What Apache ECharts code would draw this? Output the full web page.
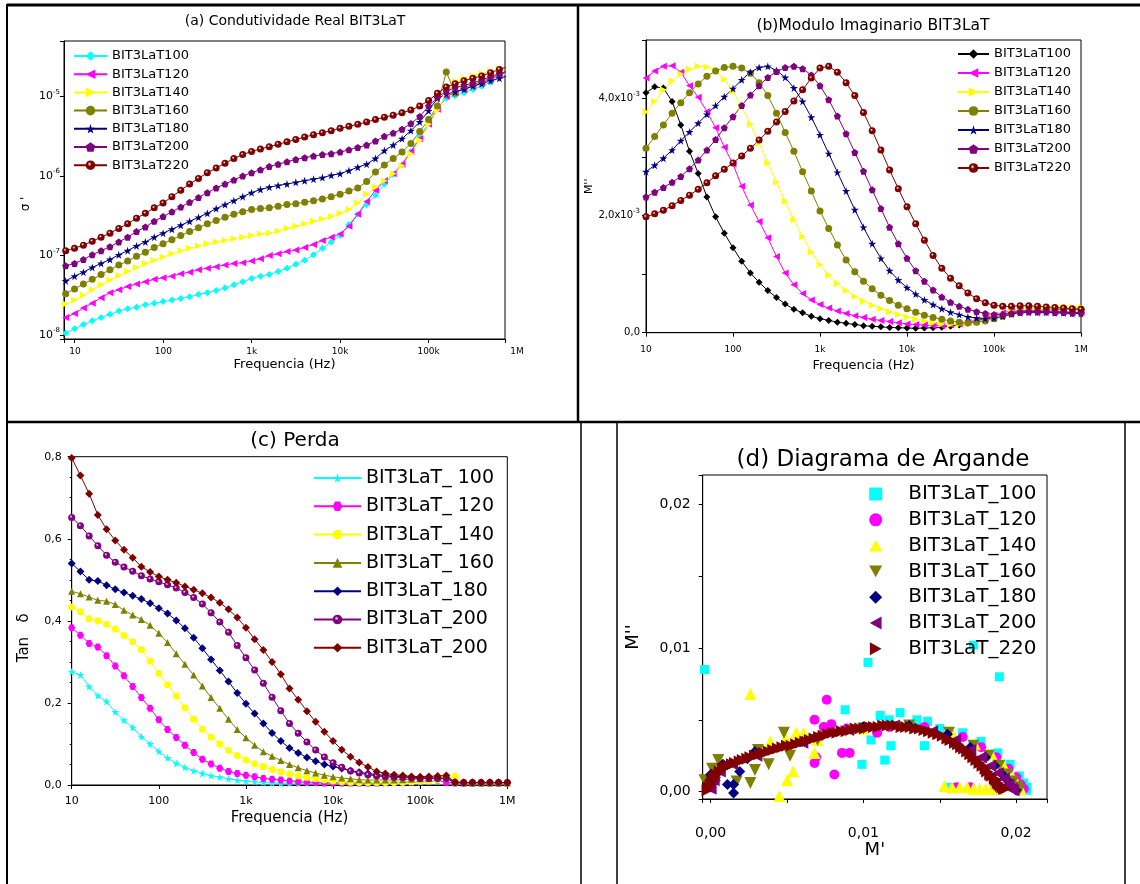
<!DOCTYPE html>
<html>
<head>
<meta charset="utf-8">
<title>BIT3LaT</title>
<script src="https://cdn.jsdelivr.net/npm/echarts@6/dist/echarts.min.js"></script>
<style>html,body{margin:0;padding:0;background:#fff}#chart{width:1140px;height:884px}</style>
</head>
<body>
<div id="chart"></div>
<script>
// ---------- DATA ----------
// frequency grids (Hz)
const freqA = [7.943,10,12.59,15.85,19.95,25.12,31.62,39.81,50.12,63.10,79.43,100,125.9,158.5,199.5,251.2,316.2,398.1,501.2,631.0,794.3,1000,1259,1585,1995,2512,3162,3981,5012,6310,7943,10000,12589,15849,19953,25119,31623,39811,50119,63096,79433,100000,125893,158489,199526,251189,316228,398107,501187,630957,794328];
const freqB = [10,12.59,15.85,19.95,25.12,31.62,39.81,50.12,63.10,79.43,100,125.9,158.5,199.5,251.2,316.2,398.1,501.2,631.0,794.3,1000,1259,1585,1995,2512,3162,3981,5012,6310,7943,10000,12589,15849,19953,25119,31623,39811,50119,63096,79433,100000,125893,158489,199526,251189,316228,398107,501187,630957,794328,1000000];
const freqTickLabels = ['10','100','1k','10k','100k','1M'];

// (a) real conductivity sigma'
const sigma100 = [1.05e-8,1.20e-8,1.35e-8,1.51e-8,1.66e-8,1.82e-8,2.00e-8,2.14e-8,2.24e-8,2.40e-8,2.51e-8,2.63e-8,2.75e-8,2.88e-8,3.02e-8,3.24e-8,3.39e-8,3.63e-8,3.89e-8,4.27e-8,4.68e-8,5.13e-8,5.50e-8,5.75e-8,6.31e-8,6.92e-8,7.76e-8,8.71e-8,1.02e-7,1.23e-7,1.48e-7,1.78e-7,2.45e-7,3.31e-7,4.37e-7,5.75e-7,7.94e-7,1.05e-6,1.38e-6,2.04e-6,3.09e-6,4.68e-6,7.24e-6,9.55e-6,1.02e-5,1.12e-5,1.23e-5,1.35e-5,1.51e-5,1.74e-5,2.00e-5];
const sigma120 = [1.66e-8,1.86e-8,2.19e-8,2.51e-8,2.95e-8,3.39e-8,3.72e-8,4.07e-8,4.37e-8,4.68e-8,5.01e-8,5.25e-8,5.50e-8,5.89e-8,6.17e-8,6.61e-8,6.92e-8,7.24e-8,7.59e-8,7.94e-8,8.13e-8,8.51e-8,9.12e-8,1.00e-7,1.05e-7,1.12e-7,1.17e-7,1.26e-7,1.38e-7,1.55e-7,1.70e-7,1.86e-7,2.34e-7,3.31e-7,4.79e-7,6.61e-7,8.71e-7,1.07e-6,1.41e-6,2.04e-6,2.95e-6,4.47e-6,6.92e-6,1.00e-5,1.12e-5,1.23e-5,1.35e-5,1.48e-5,1.66e-5,1.86e-5,2.09e-5];
const sigma140 = [2.45e-8,2.75e-8,3.16e-8,3.72e-8,4.27e-8,4.90e-8,5.62e-8,6.31e-8,7.08e-8,7.94e-8,8.71e-8,9.55e-8,1.05e-7,1.15e-7,1.23e-7,1.32e-7,1.41e-7,1.48e-7,1.55e-7,1.62e-7,1.70e-7,1.78e-7,1.86e-7,1.91e-7,2.04e-7,2.19e-7,2.34e-7,2.51e-7,2.69e-7,2.88e-7,3.09e-7,3.39e-7,3.80e-7,4.57e-7,5.89e-7,7.24e-7,8.71e-7,1.07e-6,1.35e-6,1.91e-6,2.82e-6,4.47e-6,6.76e-6,1.05e-5,1.55e-5,1.70e-5,1.82e-5,1.95e-5,2.09e-5,2.24e-5,2.40e-5];
const sigma160 = [3.31e-8,3.80e-8,4.37e-8,5.01e-8,5.75e-8,6.61e-8,7.59e-8,8.51e-8,9.77e-8,1.10e-7,1.26e-7,1.41e-7,1.58e-7,1.78e-7,2.00e-7,2.24e-7,2.51e-7,2.75e-7,3.02e-7,3.31e-7,3.55e-7,3.80e-7,3.89e-7,3.98e-7,4.17e-7,4.37e-7,4.47e-7,4.68e-7,4.90e-7,5.13e-7,5.50e-7,5.89e-7,6.46e-7,7.08e-7,8.51e-7,1.12e-6,1.38e-6,1.66e-6,2.00e-6,2.57e-6,3.63e-6,5.13e-6,7.59e-6,2.04e-5,1.10e-5,1.29e-5,1.41e-5,1.55e-5,1.70e-5,1.91e-5,2.09e-5];
const sigma180 = [4.79e-8,5.50e-8,6.17e-8,7.08e-8,7.94e-8,8.91e-8,1.02e-7,1.15e-7,1.32e-7,1.48e-7,1.70e-7,1.91e-7,2.14e-7,2.40e-7,2.69e-7,3.02e-7,3.39e-7,3.89e-7,4.37e-7,4.90e-7,5.50e-7,6.17e-7,6.76e-7,7.24e-7,7.59e-7,7.94e-7,8.32e-7,8.71e-7,9.12e-7,9.55e-7,1.02e-6,1.07e-6,1.17e-6,1.29e-6,1.41e-6,1.66e-6,2.09e-6,2.45e-6,2.95e-6,3.72e-6,4.79e-6,6.61e-6,9.55e-6,1.07e-5,1.15e-5,1.23e-5,1.35e-5,1.45e-5,1.58e-5,1.70e-5,1.82e-5];
const sigma200 = [7.41e-8,7.94e-8,8.91e-8,1.02e-7,1.15e-7,1.29e-7,1.48e-7,1.70e-7,2.00e-7,2.29e-7,2.69e-7,3.09e-7,3.55e-7,4.07e-7,4.68e-7,5.37e-7,6.17e-7,7.08e-7,7.94e-7,8.91e-7,1.00e-6,1.10e-6,1.20e-6,1.32e-6,1.41e-6,1.51e-6,1.62e-6,1.70e-6,1.78e-6,1.86e-6,1.91e-6,2.00e-6,2.14e-6,2.29e-6,2.45e-6,2.75e-6,3.16e-6,3.47e-6,3.89e-6,4.57e-6,5.62e-6,7.59e-6,9.77e-6,1.17e-5,1.29e-5,1.38e-5,1.48e-5,1.62e-5,1.78e-5,1.95e-5,2.09e-5];
const sigma220 = [1.15e-7,1.23e-7,1.35e-7,1.51e-7,1.70e-7,1.91e-7,2.19e-7,2.51e-7,2.95e-7,3.39e-7,3.98e-7,4.57e-7,5.50e-7,6.61e-7,7.94e-7,9.33e-7,1.10e-6,1.26e-6,1.45e-6,1.66e-6,1.86e-6,2.04e-6,2.19e-6,2.34e-6,2.51e-6,2.69e-6,2.88e-6,3.09e-6,3.31e-6,3.51e-6,3.72e-6,3.98e-6,4.22e-6,4.47e-6,4.79e-6,5.13e-6,5.50e-6,5.82e-6,6.24e-6,6.76e-6,7.59e-6,8.91e-6,1.10e-5,1.32e-5,1.45e-5,1.58e-5,1.70e-5,1.82e-5,2.00e-5,2.19e-5,2.40e-5];

// (b) imaginary modulus M''
const mImag100 = [4.10e-3,4.20e-3,4.18e-3,3.95e-3,3.55e-3,3.10e-3,2.72e-3,2.32e-3,1.98e-3,1.70e-3,1.45e-3,1.22e-3,1.02e-3,0.86e-3,0.72e-3,0.60e-3,0.49e-3,0.40e-3,0.34e-3,0.28e-3,0.24e-3,0.21e-3,0.18e-3,0.16e-3,0.14e-3,0.12e-3,0.11e-3,0.10e-3,0.09e-3,0.085e-3,0.08e-3,0.075e-3,0.08e-3,0.085e-3,0.095e-3,0.11e-3,0.13e-3,0.16e-3,0.20e-3,0.24e-3,0.28e-3,0.32e-3,0.35e-3,0.36e-3,0.36e-3,0.35e-3,0.35e-3,0.34e-3,0.34e-3,0.33e-3,0.33e-3];
const mImag120 = [4.35e-3,4.47e-3,4.55e-3,4.56e-3,4.45e-3,4.22e-3,4.02e-3,3.78e-3,3.50e-3,3.17e-3,2.88e-3,2.50e-3,2.18e-3,1.90e-3,1.62e-3,1.30e-3,1.02e-3,0.82e-3,0.67e-3,0.56e-3,0.48e-3,0.42e-3,0.37e-3,0.33e-3,0.29e-3,0.26e-3,0.23e-3,0.21e-3,0.19e-3,0.17e-3,0.15e-3,0.14e-3,0.13e-3,0.12e-3,0.12e-3,0.13e-3,0.15e-3,0.18e-3,0.22e-3,0.26e-3,0.30e-3,0.34e-3,0.37e-3,0.38e-3,0.38e-3,0.37e-3,0.37e-3,0.36e-3,0.36e-3,0.35e-3,0.35e-3];
const mImag140 = [3.77e-3,3.95e-3,4.15e-3,4.30e-3,4.42e-3,4.50e-3,4.55e-3,4.54e-3,4.48e-3,4.33e-3,4.12e-3,3.86e-3,3.56e-3,3.24e-3,2.90e-3,2.57e-3,2.24e-3,1.93e-3,1.64e-3,1.38e-3,1.16e-3,0.98e-3,0.84e-3,0.72e-3,0.62e-3,0.54e-3,0.47e-3,0.41e-3,0.36e-3,0.31e-3,0.27e-3,0.23e-3,0.20e-3,0.17e-3,0.15e-3,0.14e-3,0.14e-3,0.15e-3,0.18e-3,0.22e-3,0.27e-3,0.32e-3,0.37e-3,0.40e-3,0.42e-3,0.43e-3,0.44e-3,0.44e-3,0.44e-3,0.44e-3,0.44e-3];
const mImag160 = [3.15e-3,3.35e-3,3.55e-3,3.75e-3,3.93e-3,4.10e-3,4.25e-3,4.38e-3,4.47e-3,4.53e-3,4.55e-3,4.52e-3,4.43e-3,4.27e-3,4.05e-3,3.75e-3,3.42e-3,3.10e-3,2.75e-3,2.42e-3,2.08e-3,1.78e-3,1.50e-3,1.24e-3,1.04e-3,0.88e-3,0.75e-3,0.64e-3,0.55e-3,0.47e-3,0.41e-3,0.35e-3,0.30e-3,0.26e-3,0.23e-3,0.20e-3,0.18e-3,0.17e-3,0.18e-3,0.20e-3,0.24e-3,0.28e-3,0.32e-3,0.35e-3,0.37e-3,0.38e-3,0.39e-3,0.39e-3,0.40e-3,0.40e-3,0.40e-3];
const mImag180 = [2.75e-3,2.86e-3,2.98e-3,3.12e-3,3.28e-3,3.43e-3,3.58e-3,3.73e-3,3.88e-3,4.03e-3,4.17e-3,4.32e-3,4.45e-3,4.53e-3,4.55e-3,4.48e-3,4.36e-3,4.18e-3,3.95e-3,3.68e-3,3.38e-3,3.06e-3,2.74e-3,2.42e-3,2.10e-3,1.80e-3,1.52e-3,1.27e-3,1.06e-3,0.90e-3,0.77e-3,0.66e-3,0.56e-3,0.48e-3,0.41e-3,0.35e-3,0.31e-3,0.27e-3,0.25e-3,0.24e-3,0.25e-3,0.28e-3,0.32e-3,0.34e-3,0.35e-3,0.35e-3,0.35e-3,0.34e-3,0.34e-3,0.33e-3,0.33e-3];
const mImag200 = [2.32e-3,2.40e-3,2.48e-3,2.57e-3,2.67e-3,2.80e-3,2.95e-3,3.12e-3,3.30e-3,3.50e-3,3.69e-3,3.88e-3,4.06e-3,4.22e-3,4.36e-3,4.46e-3,4.53e-3,4.55e-3,4.51e-3,4.40e-3,4.22e-3,3.98e-3,3.70e-3,3.40e-3,3.08e-3,2.76e-3,2.44e-3,2.12e-3,1.80e-3,1.52e-3,1.27e-3,1.06e-3,0.88e-3,0.73e-3,0.61e-3,0.52e-3,0.45e-3,0.40e-3,0.36e-3,0.33e-3,0.31e-3,0.31e-3,0.33e-3,0.35e-3,0.36e-3,0.36e-3,0.36e-3,0.35e-3,0.35e-3,0.34e-3,0.34e-3];
const mImag220 = [1.98e-3,2.03e-3,2.09e-3,2.17e-3,2.26e-3,2.35e-3,2.45e-3,2.56e-3,2.68e-3,2.79e-3,2.90e-3,3.02e-3,3.15e-3,3.29e-3,3.44e-3,3.60e-3,3.78e-3,3.96e-3,4.15e-3,4.35e-3,4.52e-3,4.55e-3,4.45e-3,4.27e-3,4.05e-3,3.76e-3,3.45e-3,3.12e-3,2.78e-3,2.46e-3,2.15e-3,1.86e-3,1.58e-3,1.32e-3,1.10e-3,0.93e-3,0.80e-3,0.68e-3,0.58e-3,0.51e-3,0.47e-3,0.45e-3,0.45e-3,0.46e-3,0.46e-3,0.45e-3,0.44e-3,0.43e-3,0.42e-3,0.41e-3,0.40e-3];

// (c) loss tangent
const tan100 = [0.276,0.268,0.240,0.218,0.203,0.178,0.158,0.140,0.118,0.100,0.082,0.066,0.053,0.043,0.035,0.028,0.023,0.019,0.015,0.012,0.010,0.008,0.006,0.005,0.004,0.004,0.004,0.004,0.004,0.004,0.004,0.004,0.004,0.004,0.004,0.004,0.004,0.005,0.005,0.006,0.007,0.008,0.009,0.010,0.004,0.004,0.004,0.004,0.004,0.004,0.004];
const tan120 = [0.383,0.365,0.345,0.336,0.315,0.290,0.266,0.240,0.213,0.187,0.159,0.135,0.116,0.097,0.079,0.063,0.051,0.041,0.033,0.028,0.024,0.020,0.016,0.014,0.012,0.010,0.008,0.007,0.006,0.005,0.005,0.005,0.005,0.005,0.005,0.005,0.006,0.006,0.007,0.008,0.009,0.010,0.012,0.006,0.005,0.005,0.005,0.005,0.005,0.005,0.005];
const tan140 = [0.434,0.422,0.405,0.400,0.392,0.380,0.364,0.349,0.330,0.302,0.272,0.244,0.217,0.188,0.160,0.136,0.117,0.100,0.084,0.072,0.061,0.052,0.045,0.038,0.032,0.027,0.022,0.018,0.015,0.012,0.010,0.008,0.007,0.006,0.006,0.006,0.006,0.006,0.007,0.008,0.009,0.010,0.012,0.015,0.022,0.006,0.005,0.005,0.005,0.005,0.005];
const tan160 = [0.472,0.466,0.458,0.450,0.448,0.440,0.426,0.414,0.403,0.389,0.370,0.347,0.320,0.294,0.268,0.241,0.213,0.187,0.160,0.135,0.115,0.097,0.081,0.070,0.060,0.050,0.042,0.035,0.029,0.024,0.020,0.017,0.015,0.013,0.012,0.012,0.012,0.012,0.013,0.014,0.015,0.016,0.018,0.020,0.006,0.005,0.005,0.005,0.005,0.005,0.005];
const tan180 = [0.540,0.520,0.500,0.497,0.487,0.477,0.469,0.461,0.453,0.443,0.431,0.418,0.401,0.382,0.359,0.333,0.306,0.279,0.252,0.224,0.198,0.174,0.150,0.127,0.107,0.090,0.078,0.067,0.058,0.050,0.045,0.040,0.035,0.031,0.028,0.025,0.023,0.021,0.020,0.019,0.018,0.017,0.016,0.016,0.006,0.006,0.006,0.006,0.006,0.006,0.006];
const tan200a = [0.652,0.632,0.607,0.583,0.560,0.543,0.531,0.521,0.510,0.502,0.495,0.488,0.480,0.469,0.457,0.441,0.420,0.397,0.372,0.340,0.310,0.280,0.248,0.214,0.181,0.150,0.126,0.105,0.085,0.068,0.054,0.043,0.034,0.029,0.025,0.022,0.020,0.019,0.018,0.017,0.016,0.016,0.016,0.016,0.007,0.006,0.006,0.006,0.006,0.006,0.006];
const tan200b = [0.797,0.754,0.710,0.658,0.623,0.596,0.573,0.554,0.532,0.519,0.508,0.500,0.493,0.484,0.476,0.467,0.457,0.444,0.428,0.408,0.383,0.355,0.329,0.300,0.270,0.235,0.208,0.180,0.154,0.130,0.107,0.086,0.069,0.055,0.044,0.033,0.028,0.025,0.023,0.021,0.020,0.021,0.022,0.023,0.007,0.006,0.006,0.006,0.006,0.006,0.006];

// (d) Argand diagram points [M', M'']
const arg100 = [[-0.0004,0.0085],[0.0103,0.0090],[0.0172,0.0102],[0.0189,0.0080],[0.0088,0.0057],[0.0111,0.0053],[0.0124,0.0055],[0.0117,0.0050],[0.0135,0.0050],[0.0142,0.0049],[0.0080,0.0042],[0.0105,0.0036],[0.0118,0.0032],[0.0140,0.0032],[0.0099,0.0019],[0.0114,0.0022],[0.0157,0.0003],[0.0150,0.0044],[0.0165,0.0041],[0.0177,0.0035],[0.0188,0.0027],[0.0196,0.0019],[0.0202,0.0011],[0.0205,0.0006],[0.0207,0.0003],[0.0207,0.0001]];
const arg120 = [[0.0000,0.0003],[0.0068,0.0050],[0.0076,0.0064],[0.0074,0.0045],[0.0079,0.0047],[0.0086,0.0027],[0.0091,0.0027],[0.0068,0.0020],[0.0069,0.0024],[0.0081,0.0012],[0.0071,0.0038],[0.0089,0.0044],[0.0100,0.0045],[0.0109,0.0041],[0.0117,0.0045],[0.0140,0.0045],[0.0165,0.0038],[0.0177,0.0031],[0.0187,0.0024],[0.0195,0.0016],[0.0200,0.0010],[0.0203,0.0005],[0.0205,0.0002],[0.0161,0.0003],[0.0170,0.0003],[0.0190,0.0002]];
const arg140 = [[0.0026,0.0068],[0.0039,0.0035],[0.0049,0.0037],[0.0056,0.0041],[0.0061,0.0041],[0.0054,0.0014],[0.0050,0.0008],[0.0045,-0.0003],[0.0068,0.0027],[0.0070,0.0036],[0.0100,0.0044],[0.0130,0.0046],[0.0158,0.0041],[0.0173,0.0033],[0.0184,0.0026],[0.0192,0.0018],[0.0198,0.0010],[0.0201,0.0005],[0.0203,0.0002],[0.0153,0.0004],[0.0158,0.0003],[0.0163,0.0003],[0.0168,0.0003],[0.0172,0.0002],[0.0176,0.0002],[0.0180,0.0002],[0.0184,0.0002],[0.0188,0.0002]];
const arg160 = [[-0.0004,0.0008],[0.0001,0.0016],[0.0005,0.0022],[0.0017,0.0007],[0.0026,0.0006],[0.0029,0.0015],[0.0031,0.0029],[0.0038,0.0019],[0.0048,0.0041],[0.0052,0.0025],[0.0070,0.0036],[0.0100,0.0044],[0.0130,0.0046],[0.0156,0.0041],[0.0172,0.0032],[0.0182,0.0025],[0.0189,0.0018],[0.0194,0.0012],[0.0198,0.0007],[0.0201,0.0003],[0.0202,0.0001]];
const arg180 = [[0.0000,0.0012],[0.0003,0.0008],[0.0008,0.0019],[0.0011,0.0005],[0.0015,0.0005],[0.0015,-0.0001],[0.0019,0.0014],[0.0024,0.0023],[0.0029,0.0028],[0.0060,0.0035],[0.0100,0.0045],[0.0130,0.0046],[0.0155,0.0040],[0.0170,0.0031],[0.0180,0.0024],[0.0186,0.0018],[0.0191,0.0012],[0.0195,0.0007],[0.0198,0.0003],[0.0200,0.0001]];
const arg200 = [[0.0000,0.0002],[0.0002,0.0008],[0.0006,0.0014],[0.0014,0.0019],[0.0030,0.0025],[0.0060,0.0034],[0.0090,0.0043],[0.0120,0.0046],[0.0145,0.0042],[0.0160,0.0036],[0.0170,0.0029],[0.0177,0.0024],[0.0183,0.0018],[0.0188,0.0013],[0.0192,0.0009],[0.0195,0.0005],[0.0197,0.0002],[0.0198,0.0001]];
const arg220 = [[-0.0002,0.0001],[-0.0001,0.0003],[0.0000,0.0005],[0.0001,0.0007],[0.0002,0.0009],[0.0003,0.0010],[0.0004,0.0012],[0.0006,0.0014],[0.0008,0.0016],[0.0010,0.0017],[0.0012,0.0018],[0.0014,0.0019],[0.0016,0.0020],[0.0019,0.0021],[0.0021,0.0022],[0.0024,0.0023],[0.0026,0.0024],[0.0029,0.0025],[0.0032,0.0026],[0.0035,0.0027],[0.0038,0.0028],[0.0041,0.0029],[0.0044,0.0030],[0.0047,0.0031],[0.0050,0.0032],[0.0053,0.0032],[0.0056,0.0033],[0.0059,0.0034],[0.0062,0.0035],[0.0065,0.0036],[0.0068,0.0037],[0.0071,0.0038],[0.0074,0.0039],[0.0077,0.0040],[0.0080,0.0041],[0.0083,0.0041],[0.0086,0.0042],[0.0089,0.0042],[0.0092,0.0043],[0.0095,0.0044],[0.0098,0.0044],[0.0101,0.0044],[0.0104,0.0045],[0.0107,0.0045],[0.0110,0.0045],[0.0113,0.0046],[0.0116,0.0046],[0.0119,0.0046],[0.0122,0.0046],[0.0125,0.0045],[0.0128,0.0045],[0.0131,0.0045],[0.0134,0.0044],[0.0137,0.0044],[0.0140,0.0043],[0.0143,0.0042],[0.0146,0.0041],[0.0149,0.0040],[0.0152,0.0039],[0.0155,0.0037],[0.0157,0.0036],[0.0160,0.0034],[0.0162,0.0033],[0.0164,0.0031],[0.0166,0.0030],[0.0168,0.0028],[0.0170,0.0026],[0.0172,0.0024],[0.0174,0.0022],[0.0176,0.0020],[0.0178,0.0018],[0.0180,0.0016],[0.0181,0.0014],[0.0183,0.0012],[0.0184,0.0011],[0.0186,0.0009],[0.0187,0.0008],[0.0188,0.0006],[0.0189,0.0005],[0.0190,0.0004],[0.0191,0.0003],[0.0192,0.0002],[0.0193,0.0002]];

// ---------- STYLE ----------
const FONT = 'DejaVu Sans';
const C = {cyan:'#00FFFF', magenta:'#FF00FF', yellow:'#FFFF00', olive:'#808000', navy:'#000080', purple:'#800080', maroon:'#800000', black:'#000000'};
const STAR = 'path://M50,0 L61,35 L98,35 L68,57 L79,91 L50,70 L21,91 L32,57 L2,35 L39,35 Z';
const PENTA = 'path://M50,0 L98,36 L80,95 L20,95 L2,36 Z';
const HEXA = 'path://M25,6 L75,6 L100,50 L75,94 L25,94 L0,50 Z';
const TRI_UP = 'path://M50,0 L100,90 L0,90 Z';
const TRI_DOWN = 'path://M0,10 L100,10 L50,100 Z';
const TRI_LEFT = 'path://M0,50 L90,0 L90,100 Z';
const TRI_RIGHT = 'path://M10,0 L100,50 L10,100 Z';
function sphere(c){return {type:'radial',x:0.4,y:0.38,r:0.62,colorStops:[{offset:0,color:'#ffffff'},{offset:0.35,color:c},{offset:1,color:c}]};}

function isPow10(v){const e=Math.round(Math.log10(v));return Math.abs(v/Math.pow(10,e)-1)<1e-3?e:null;}
function freqLabel(v){const e=isPow10(v);return e===null?'':(freqTickLabels[e-1]||'');}
function sigmaLabel(v){const e=isPow10(v);return e===null?'':'{b|10}{s|'+e+'}';}
function mLabel(v){const k=Math.round(v*1000);if(Math.abs(v*1000-k)>1e-6)return '';if(k===0)return '{b|0,0}';if(k%2)return '';return '{b|'+k+',0x10}{s|-3}';}
function tanLabel(v){return v.toFixed(1).replace('.',',');}
function argLabel(v){const k=Math.round(v/0.01);if(Math.abs(v-k*0.01)>1e-9)return '';return (k*0.01).toFixed(2).replace('.',',');}

function lineS(name, xs, ys, color, symbol, size, ax, extra){
  return Object.assign({
    type:'line', name:name, xAxisIndex:ax, yAxisIndex:ax,
    data: xs.map(function(x,i){return [x, ys[i]];}),
    symbol:symbol, symbolSize:size,
    itemStyle:{color:color.fill||color.c},
    lineStyle:{color:color.c, width:1},
    emphasis:{disabled:true}
  }, extra||{});
}
function scat(name, pts, color, symbol, size){
  return {type:'scatter', name:name, xAxisIndex:4, yAxisIndex:4, data:pts, symbol:symbol, symbolSize:size, itemStyle:{color:color, opacity:1}, emphasis:{disabled:true}};
}

const axisBase = {
  axisLine:{show:true, onZero:false, lineStyle:{color:'#000', width:1}},
  axisTick:{show:true, length:4, lineStyle:{color:'#000'}},
  splitLine:{show:false}
};
function ax(o){return Object.assign({}, JSON.parse(JSON.stringify(axisBase)), o);}

const namesA = ['BIT3LaT100','BIT3LaT120','BIT3LaT140','BIT3LaT160','BIT3LaT180','BIT3LaT200','BIT3LaT220'];
const namesB = ['BIT3LaT100 ','BIT3LaT120 ','BIT3LaT140 ','BIT3LaT160 ','BIT3LaT180 ','BIT3LaT200 ','BIT3LaT220 '];
const namesC = ['BIT3LaT_ 100','BIT3LaT_ 120','BIT3LaT_ 140','BIT3LaT_ 160','BIT3LaT_180 ','BIT3LaT_200 ','BIT3LaT_200  '];
const namesD = ['BIT3LaT_100','BIT3LaT_120','BIT3LaT_140','BIT3LaT_160','BIT3LaT_180','BIT3LaT_200','BIT3LaT_220'];

const supRich = function(bs){return {b:{fontSize:bs, fontFamily:FONT, color:'#000', lineHeight:bs+5}, s:{fontSize:7, fontFamily:FONT, color:'#000', verticalAlign:'top', lineHeight:6}};};

const option = {
  animation:false,
  backgroundColor:'#ffffff',
  textStyle:{fontFamily:FONT, color:'#000'},
  title:[
    {text:'(a) Condutividade Real BIT3LaT', left:290, top:9, textAlign:'center', textStyle:{fontFamily:FONT, fontSize:14, fontWeight:'normal', color:'#000'}},
    {text:'(b)Modulo Imaginario BIT3LaT', left:868, top:13, textAlign:'center', textStyle:{fontFamily:FONT, fontSize:15.5, fontWeight:'normal', color:'#000'}},
    {text:'(c) Perda', left:290, top:426, textAlign:'center', textStyle:{fontFamily:FONT, fontSize:20, fontWeight:'normal', color:'#000'}},
    {text:'(d) Diagrama de Argande', left:878, top:443.5, textAlign:'center', textStyle:{fontFamily:FONT, fontSize:23, fontWeight:'normal', color:'#000'}}
  ],
  legend:[
    {data:namesA, orient:'vertical', left:73, top:49.5, padding:0, itemWidth:33, itemHeight:12, itemGap:5.2, selectedMode:false, textStyle:{fontFamily:FONT, fontSize:13, lineHeight:13, color:'#000'}},
    {data:namesB, orient:'vertical', left:957, top:47.5, padding:0, itemWidth:31, itemHeight:12, itemGap:6, selectedMode:false, textStyle:{fontFamily:FONT, fontSize:13, lineHeight:13, color:'#000'}},
    {data:namesC, orient:'vertical', left:313, top:468.5, padding:0, itemWidth:47, itemHeight:12, itemGap:9.3, selectedMode:false, textStyle:{fontFamily:FONT, fontSize:19, lineHeight:19, color:'#000'}},
    {data:namesD, orient:'vertical', left:869.2, top:484, padding:0, itemWidth:13, itemHeight:13, itemGap:5.8, selectedMode:false, textStyle:{fontFamily:FONT, fontSize:20, lineHeight:20, color:'#000', padding:[0,0,0,21]}}
  ],
  grid:[
    {left:64, top:41, width:441, height:298, show:true, borderColor:'#000', borderWidth:1, backgroundColor:'transparent'},
    {left:75, top:41, width:442, height:298, show:false},
    {left:646, top:40, width:435, height:292.7, show:true, borderColor:'#000', borderWidth:1, backgroundColor:'transparent'},
    {left:71.7, top:456.7, width:435.6, height:328.3, show:true, borderColor:'#000', borderWidth:1, backgroundColor:'transparent'},
    {left:702.7, top:475, width:344.3, height:324, show:true, borderColor:'#000', borderWidth:1, backgroundColor:'transparent'}
  ],
  xAxis:[
    ax({type:'log', logBase:10, gridIndex:0, min:7.6, max:7.3e5, axisLabel:{show:false},
        name:'Frequencia (Hz)', nameLocation:'middle', nameGap:19, nameTextStyle:{fontFamily:FONT, fontSize:13, color:'#000'}}),
    ax({type:'log', logBase:10, gridIndex:1, min:10, max:1e6, axisLine:{show:false}, axisTick:{show:false},
        axisLabel:{formatter:freqLabel, fontFamily:FONT, fontSize:9, color:'#000', margin:8, showMinLabel:true, showMaxLabel:true}}),
    ax({type:'log', logBase:10, gridIndex:2, min:10, max:1e6,
        axisLabel:{formatter:freqLabel, fontFamily:FONT, fontSize:9, color:'#000', margin:12},
        name:'Frequencia (Hz)', nameLocation:'middle', nameGap:26, nameTextStyle:{fontFamily:FONT, fontSize:13, color:'#000'}}),
    ax({type:'log', logBase:10, gridIndex:3, min:10, max:1e6,
        axisLabel:{formatter:freqLabel, fontFamily:FONT, fontSize:11, color:'#000', margin:11},
        name:'Frequencia (Hz)', nameLocation:'middle', nameGap:26, nameTextStyle:{fontFamily:FONT, fontSize:15, color:'#000'}}),
    ax({type:'value', gridIndex:4, min:-0.00052, max:0.02202,
        axisLabel:{formatter:argLabel, fontFamily:FONT, fontSize:14, color:'#000', margin:27},
        name:"M'", nameLocation:'middle', nameGap:40, nameTextStyle:{fontFamily:FONT, fontSize:18, color:'#000'}})
  ],
  yAxis:[
    ax({type:'log', logBase:10, gridIndex:0, min:8.9e-9, max:5.0e-5,
        axisLabel:{formatter:sigmaLabel, margin:4, rich:supRich(11)},
        name:"σ '", nameLocation:'middle', nameGap:32, nameTextStyle:{fontFamily:FONT, fontSize:12, color:'#000', padding:[0,28,0,0]}}),
    {type:'value', gridIndex:1, show:false, min:0, max:1},
    ax({type:'value', gridIndex:2, min:0, max:0.005, interval:0.001,
        axisLabel:{formatter:mLabel, margin:6, rich:supRich(10)},
        name:"M''", nameLocation:'middle', nameGap:36, nameTextStyle:{fontFamily:FONT, fontSize:11, color:'#000'}}),
    ax({type:'value', gridIndex:3, min:0, max:0.8, interval:0.2,
        minorTick:{show:true, splitNumber:4, length:2, lineStyle:{color:'#000'}},
        axisLabel:{formatter:tanLabel, fontFamily:FONT, fontSize:11, color:'#000', margin:10},
        name:'Tan   δ', nameLocation:'middle', nameGap:40, nameTextStyle:{fontFamily:FONT, fontSize:15, color:'#000', padding:[0,34,0,0]}}),
    ax({type:'value', gridIndex:4, min:-0.00051, max:0.02204,
        axisLabel:{formatter:argLabel, fontFamily:FONT, fontSize:14, color:'#000', margin:12},
        name:"M''", nameLocation:'middle', nameGap:60, nameTextStyle:{fontFamily:FONT, fontSize:18, color:'#000'}})
  ],
  series:[
    // (a)
    lineS(namesA[0], freqA, sigma100, {c:C.cyan}, 'diamond', 7, 0),
    lineS(namesA[1], freqA, sigma120, {c:C.magenta}, TRI_LEFT, 7, 0),
    lineS(namesA[2], freqA, sigma140, {c:C.yellow}, TRI_RIGHT, 7, 0),
    lineS(namesA[3], freqA, sigma160, {c:C.olive}, 'circle', 7, 0),
    lineS(namesA[4], freqA, sigma180, {c:C.navy}, STAR, 8, 0),
    lineS(namesA[5], freqA, sigma200, {c:C.purple}, PENTA, 7, 0),
    lineS(namesA[6], freqA, sigma220, {c:C.maroon, fill:sphere(C.maroon)}, 'circle', 7, 0),
    // (b)
    lineS(namesB[0], freqB, mImag100, {c:C.black}, 'diamond', 7, 2),
    lineS(namesB[1], freqB, mImag120, {c:C.magenta}, TRI_LEFT, 7, 2),
    lineS(namesB[2], freqB, mImag140, {c:C.yellow}, TRI_RIGHT, 7, 2),
    lineS(namesB[3], freqB, mImag160, {c:C.olive}, 'circle', 7, 2),
    lineS(namesB[4], freqB, mImag180, {c:C.navy}, STAR, 8, 2),
    lineS(namesB[5], freqB, mImag200, {c:C.purple}, PENTA, 7, 2),
    lineS(namesB[6], freqB, mImag220, {c:C.maroon, fill:sphere(C.maroon)}, 'circle', 7, 2),
    // (c)
    lineS(namesC[0], freqB, tan100, {c:C.cyan}, STAR, 8, 3),
    lineS(namesC[1], freqB, tan120, {c:C.magenta}, HEXA, 7, 3),
    lineS(namesC[2], freqB, tan140, {c:C.yellow}, 'circle', 7, 3),
    lineS(namesC[3], freqB, tan160, {c:C.olive}, TRI_UP, 7, 3),
    lineS(namesC[4], freqB, tan180, {c:C.navy}, 'diamond', 8, 3),
    lineS(namesC[5], freqB, tan200a, {c:C.purple, fill:sphere(C.purple)}, 'circle', 7, 3),
    lineS(namesC[6], freqB, tan200b, {c:C.maroon}, 'diamond', 8, 3),
    // (d)
    scat(namesD[0], arg100, C.cyan, 'rect', 9),
    scat(namesD[1], arg120, C.magenta, 'circle', 10),
    scat(namesD[2], arg140, C.yellow, TRI_UP, 12),
    scat(namesD[3], arg160, C.olive, TRI_DOWN, 12),
    scat(namesD[4], arg180, C.navy, 'diamond', 11),
    scat(namesD[5], arg200, C.purple, TRI_LEFT, 12),
    scat(namesD[6], arg220, C.maroon, TRI_RIGHT, 12)
  ],
  graphic:[
    {type:'line', silent:true, shape:{x1:7,y1:5,x2:1140,y2:5}, style:{stroke:'#000', lineWidth:3}},
    {type:'line', silent:true, shape:{x1:7,y1:4,x2:7,y2:884}, style:{stroke:'#000', lineWidth:2}},
    {type:'line', silent:true, shape:{x1:578,y1:5,x2:578,y2:422}, style:{stroke:'#000', lineWidth:2.5}},
    {type:'line', silent:true, shape:{x1:7,y1:422,x2:1140,y2:422}, style:{stroke:'#000', lineWidth:2.5}},
    {type:'line', silent:true, shape:{x1:581,y1:422,x2:581,y2:884}, style:{stroke:'#000', lineWidth:1.5}},
    {type:'line', silent:true, shape:{x1:617,y1:422,x2:617,y2:884}, style:{stroke:'#000', lineWidth:1.5}},
    {type:'line', silent:true, shape:{x1:1125,y1:422,x2:1125,y2:884}, style:{stroke:'#000', lineWidth:1.5}}
  ]
};

const chart = echarts.init(document.getElementById('chart'), null, {renderer:'canvas', width:1140, height:884});
chart.setOption(option);
</script>
</body>
</html>
